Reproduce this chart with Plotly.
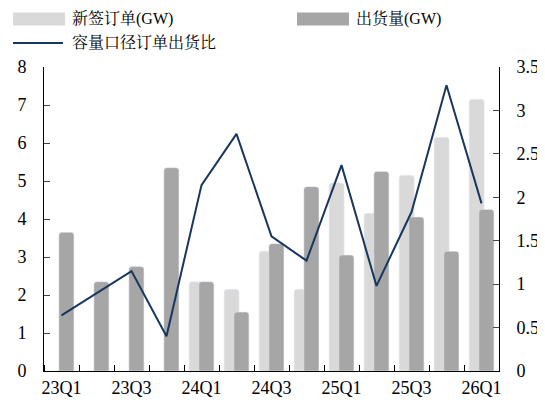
import plotly.graph_objects as go

quarters = ["23Q1", "23Q2", "23Q3", "23Q4", "24Q1", "24Q2", "24Q3",
            "24Q4", "25Q1", "25Q2", "25Q3", "25Q4", "26Q1"]
new_orders = [0, 0, 0, 0, 2.35, 2.15, 3.15, 2.15, 4.95, 4.15, 5.15, 6.15, 7.15]
shipments = [3.65, 2.35, 2.75, 5.35, 2.35, 1.55, 3.35, 4.85, 3.05, 5.25, 4.05, 3.15, 4.25]
ratio = [0.64, 0.9, 1.15, 0.40, 2.14, 2.73, 1.55, 1.27, 2.37, 0.98, 1.83, 3.29, 1.93]
tick_labels = ["23Q1", "23Q3", "24Q1", "24Q3", "25Q1", "25Q3", "26Q1"]
names = ["新签订单(GW)", "出货量(GW)", "容量口径订单出货比"]
colors = ["#d9d9d9", "#a6a6a6", "#17375e"]

x = list(range(len(quarters)))
font = "Liberation Serif, Times New Roman, Noto Serif CJK SC, Noto Sans CJK SC, serif"

# the page body has an 8px margin, so the figure is a bit smaller than the window
PAD = 8
W, H = 545 - PAD, 405 - PAD
L, R, T, B = 44 - PAD, 46, 67 - PAD, 34


def px(xp):
    return (xp - PAD - L) / (W - L - R)


def py(yp):
    return (H - B - (yp - PAD)) / (H - T - B)


fig = go.Figure()
fig.add_trace(go.Bar(x=x, y=new_orders, name=names[0],
                     marker=dict(color=colors[0], cornerradius=3),
                     width=0.43, offset=-0.355))
fig.add_trace(go.Bar(x=x, y=shipments, name=names[1],
                     marker=dict(color=colors[1], cornerradius=3),
                     width=0.43, offset=-0.075))
fig.add_trace(go.Scatter(x=x, y=ratio, name=names[2], yaxis="y2",
                         mode="lines", line=dict(color=colors[2], width=2)))

fig.update_layout(
    width=W, height=H,
    barmode="overlay",
    plot_bgcolor="white", paper_bgcolor="white",
    font=dict(family=font, size=18, color="black"),
    margin=dict(l=L, r=R, t=T, b=B),
    showlegend=False,
    xaxis=dict(range=[-0.5, 12.5], tickmode="array",
               tickvals=[0, 2, 4, 6, 8, 10, 12], ticktext=tick_labels,
               showgrid=False, showline=True, linecolor="black", linewidth=1,
               ticks="", zeroline=False, automargin=False,
               minor=dict(ticks="inside", tick0=0.5, dtick=1, ticklen=6,
                          tickcolor="black", showgrid=False)),
    yaxis=dict(range=[0, 8], dtick=1, showgrid=False, showline=True,
               linecolor="black", linewidth=1, ticks="inside", ticklen=6,
               ticklabelstandoff=13, zeroline=False, automargin=False),
    yaxis2=dict(range=[0, 3.5], dtick=0.5, overlaying="y", side="right",
                showgrid=False, showline=True, linecolor="black", linewidth=1,
                ticks="inside", ticklen=6, ticklabelstandoff=13, zeroline=False,
                automargin=False),
)

# legend drawn by hand: wide swatches like the original
legend_items = [(13, 19, "rect", 0), (297, 19, "rect", 1), (13, 43, "line", 2)]
for x0, yc, kind, i in legend_items:
    if kind == "rect":
        fig.add_shape(type="rect", xref="paper", yref="paper",
                      x0=px(x0), x1=px(x0 + 52), y0=py(yc + 6.5), y1=py(yc - 6.5),
                      fillcolor=colors[i], line=dict(width=0), layer="above")
    else:
        fig.add_shape(type="line", xref="paper", yref="paper",
                      x0=px(x0), x1=px(x0 + 50), y0=py(yc), y1=py(yc),
                      line=dict(color=colors[i], width=2))
    fig.add_annotation(text=names[i], xref="paper", yref="paper",
                       x=px(x0 + 57), y=py(yc), xanchor="left", yanchor="middle",
                       showarrow=False, font=dict(size=16))

fig.write_html("out.html")
